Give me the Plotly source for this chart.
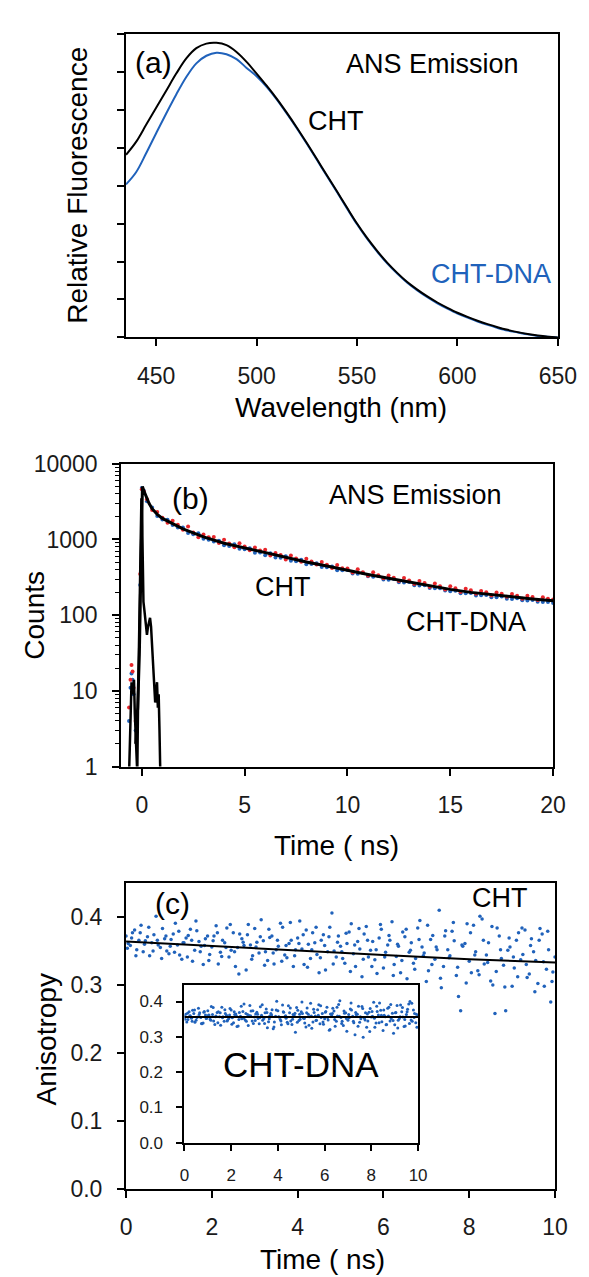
import plotly.graph_objects as go

# =========================
# DATA
# =========================

# (a) steady-state ANS emission spectra
wavelength = [435, 440, 445, 450, 455, 460, 465, 470, 475, 480, 485, 490, 495, 500, 505,
              510, 515, 520, 525, 530, 535, 540, 545, 550, 555, 560, 565, 570, 575, 580,
              585, 590, 595, 600, 605, 610, 615, 620, 625, 630, 635, 640, 645, 650]
fl_cht = [4.81, 5.15, 5.60, 6.05, 6.50, 6.95, 7.35, 7.62, 7.74, 7.76, 7.70, 7.52, 7.26, 6.95, 6.63,
          6.29, 5.92, 5.53, 5.12, 4.70, 4.27, 3.85, 3.42, 3.00, 2.62, 2.28, 1.97, 1.70, 1.46, 1.26,
          1.08, 0.92, 0.78, 0.65, 0.54, 0.44, 0.35, 0.27, 0.20, 0.14, 0.09, 0.05, 0.02, 0.00]
fl_cht_dna = [4.03, 4.35, 4.85, 5.38, 5.90, 6.40, 6.86, 7.22, 7.42, 7.50, 7.46, 7.33, 7.10, 6.88, 6.60,
              6.27, 5.90, 5.51, 5.10, 4.68, 4.25, 3.83, 3.40, 2.98, 2.60, 2.26, 1.95, 1.68, 1.44, 1.24,
              1.06, 0.90, 0.76, 0.63, 0.52, 0.42, 0.33, 0.25, 0.18, 0.13, 0.08, 0.04, 0.02, 0.00]

# (b) fluorescence decays (counts vs time, ns)
t_decay = [-0.62, -0.55, -0.50, -0.45, -0.40, -0.30, -0.08, 0.00, 0.10,
           0.25, 0.50, 0.75, 1.00, 1.25, 1.50, 1.75, 2.00, 2.25, 2.50, 2.75, 3.00,
           3.25, 3.50, 3.75, 4.00, 4.25, 4.50, 4.75, 5.00, 5.25, 5.50, 5.75, 6.00,
           6.25, 6.50, 6.75, 7.00, 7.25, 7.50, 7.75, 8.00, 8.25, 8.50, 8.75, 9.00,
           9.25, 9.50, 9.75, 10.00, 10.25, 10.50, 10.75, 11.00, 11.25, 11.50, 11.75, 12.00,
           12.25, 12.50, 12.75, 13.00, 13.25, 13.50, 13.75, 14.00, 14.25, 14.50, 14.75, 15.00,
           15.25, 15.50, 15.75, 16.00, 16.25, 16.50, 16.75, 17.00, 17.25, 17.50, 17.75, 18.00,
           18.25, 18.50, 18.75, 19.00, 19.25, 19.50, 19.75, 20.00]
counts_cht = [6, 14, 22, 18, 11, 4, 350, 4600, 4300,
              3400, 2450, 2310, 1940, 1660, 1770, 1560, 1340, 1480, 1235, 1070, 1160,
              1070, 1080, 895, 990, 882, 792, 892, 810, 718, 786, 713, 730,
              612, 664, 625, 545, 613, 561, 508, 555, 510, 466, 504, 465,
              419, 459, 417, 414, 366, 403, 368, 331, 369, 338, 308, 333,
              312, 282, 309, 287, 259, 282, 265, 236, 261, 241, 219, 241,
              226, 203, 224, 214, 192, 209, 201, 182, 199, 192, 175, 190,
              181, 165, 180, 174, 158, 173, 165, 161]
counts_cht_dna = [4, 11, 17, 14, 9, 3, 250, 4800, 4400,
                  3200, 2650, 2050, 1840, 1820, 1550, 1440, 1440, 1220, 1175, 1210, 1020,
                  990, 940, 965, 840, 822, 862, 752, 740, 768, 666, 673, 620,
                  658, 580, 575, 601, 523, 517, 538, 471, 474, 486, 432, 431,
                  441, 393, 393, 394, 354, 353, 360, 327, 321, 328, 296, 293,
                  300, 272, 271, 275, 249, 246, 249, 228, 227, 227, 211, 207,
                  210, 195, 194, 196, 182, 183, 185, 172, 173, 176, 165, 164,
                  167, 157, 156, 158, 150, 149, 149, 145]
t_fit = [-0.30, -0.20, -0.12, -0.06, -0.02, 0.03, 0.10, 0.20, 0.35, 0.50, 0.75, 1.0, 1.5,
         2.0, 2.5, 3.0, 4.0, 5.0, 6.0, 7.0, 8.0, 9.0, 10.0, 11.0, 12.0, 13.0, 14.0, 15.0,
         16.0, 17.0, 18.0, 19.0, 20.0]
counts_fit = [2, 6, 30, 300, 2200, 5000, 4400, 3700, 3000, 2550, 2150, 1900, 1630,
              1380, 1225, 1080, 890, 770, 660, 575, 505, 445, 390, 345, 307, 273, 244, 219,
              200, 186, 174, 164, 155]
t_irf = [-0.70, -0.62, -0.58, -0.54, -0.50, -0.46, -0.42, -0.38, -0.34, -0.30, -0.26, -0.22,
         -0.18, -0.14, -0.10, -0.06, -0.02, 0.02, 0.05, 0.08, 0.12, 0.16, 0.20, 0.25, 0.30,
         0.35, 0.40, 0.45, 0.50, 0.55, 0.60, 0.65, 0.70, 0.74, 0.78, 0.82, 0.86, 0.90, 0.95]
counts_irf = [0.8, 0.8, 2, 6, 13, 9, 12, 14, 5, 2, 0.8, 0.8,
              8, 40, 200, 1200, 3500, 1500, 280, 150, 120, 90, 65, 55, 70,
              85, 92, 70, 40, 22, 12, 7, 10, 13, 6, 9, 3, 0.8, 0.8]

# (c) time-resolved anisotropy
t_aniso_a = [0.0, 0.1, 0.2, 0.3, 0.4, 0.5, 0.6, 0.7, 0.8, 0.9, 1.0, 1.1, 1.2, 1.3, 1.4, 1.5, 1.6,
             1.7, 1.8, 1.9, 2.0, 2.1, 2.2, 2.3, 2.4, 2.5, 2.6, 2.7, 2.8, 2.9, 3.0, 3.1, 3.2, 3.3,
             3.4, 3.5, 3.6, 3.7, 3.8, 3.9, 4.0, 4.1, 4.2, 4.3, 4.4, 4.5, 4.6, 4.7, 4.8, 4.9, 5.0,
             5.1, 5.2, 5.3, 5.4, 5.5, 5.6, 5.7, 5.8, 5.9, 6.0, 6.1, 6.2, 6.3, 6.4, 6.5, 6.6, 6.7,
             6.8, 6.9, 7.0, 7.1, 7.2, 7.3, 7.4, 7.5, 7.6, 7.7, 7.8, 7.9, 8.0, 8.1, 8.2, 8.3, 8.4,
             8.5, 8.6, 8.7, 8.8, 8.9, 9.0, 9.1, 9.2, 9.3, 9.4, 9.5, 9.6, 9.7, 9.8, 9.9, 10.0]
t_aniso_b = [0.05, 0.15, 0.25, 0.35, 0.45, 0.55, 0.65, 0.75, 0.85, 0.95, 1.05, 1.15, 1.25, 1.35,
             1.45, 1.55, 1.65, 1.75, 1.85, 1.95, 2.05, 2.15, 2.25, 2.35, 2.45, 2.55, 2.65, 2.75,
             2.85, 2.95, 3.05, 3.15, 3.25, 3.35, 3.45, 3.55, 3.65, 3.75, 3.85, 3.95, 4.05, 4.15,
             4.25, 4.35, 4.45, 4.55, 4.65, 4.75, 4.85, 4.95, 5.05, 5.15, 5.25, 5.35, 5.45, 5.55,
             5.65, 5.75, 5.85, 5.95, 6.05, 6.15, 6.25, 6.35, 6.45, 6.55, 6.65, 6.75, 6.85, 6.95,
             7.05, 7.15, 7.25, 7.35, 7.45, 7.55, 7.65, 7.75, 7.85, 7.95, 8.05, 8.15, 8.25, 8.35,
             8.45, 8.55, 8.65, 8.75, 8.85, 8.95, 9.05, 9.15, 9.25, 9.35, 9.45, 9.55, 9.65, 9.75,
             9.85, 9.95]
t_aniso_c = [0.03, 0.13, 0.23, 0.33, 0.43, 0.53, 0.63, 0.73, 0.83, 0.93, 1.03, 1.13, 1.23, 1.33,
             1.43, 1.53, 1.63, 1.73, 1.83, 1.93, 2.03, 2.13, 2.23, 2.33, 2.43, 2.53, 2.63, 2.73,
             2.83, 2.93, 3.03, 3.13, 3.23, 3.33, 3.43, 3.53, 3.63, 3.73, 3.83, 3.93, 4.03, 4.13,
             4.23, 4.33, 4.43, 4.53, 4.63, 4.73, 4.83, 4.93, 5.03, 5.13, 5.23, 5.33, 5.43, 5.53,
             5.63, 5.73, 5.83, 5.93, 6.03, 6.13, 6.23, 6.33, 6.43, 6.53, 6.63, 6.73, 6.83, 6.93,
             7.03, 7.13, 7.23, 7.33, 7.43, 7.53, 7.63, 7.73, 7.83, 7.93, 8.03, 8.13, 8.23, 8.33,
             8.43, 8.53, 8.63, 8.73, 8.83, 8.93, 9.03, 9.13, 9.23, 9.33, 9.43, 9.53, 9.63, 9.73,
             9.83, 9.93]
r_cht_a = [0.372, 0.358, 0.381, 0.366, 0.349, 0.371, 0.362, 0.401, 0.355, 0.368,
           0.346, 0.375, 0.359, 0.338, 0.369, 0.382, 0.351, 0.364, 0.330, 0.372,
           0.356, 0.387, 0.348, 0.362, 0.341, 0.377, 0.355, 0.368, 0.322, 0.359,
           0.383, 0.347, 0.365, 0.336, 0.372, 0.352, 0.391, 0.344, 0.361, 0.327,
           0.369, 0.353, 0.381, 0.339, 0.362, 0.318, 0.374, 0.349, 0.406, 0.341,
           0.357, 0.332, 0.378, 0.346, 0.364, 0.312, 0.386, 0.351, 0.337, 0.369,
           0.325, 0.359, 0.393, 0.342, 0.318, 0.371, 0.348, 0.332, 0.384, 0.356,
           0.305, 0.367, 0.338, 0.410, 0.327, 0.352, 0.379, 0.314, 0.262, 0.361,
           0.335, 0.388, 0.321, 0.397, 0.344, 0.306, 0.258, 0.372, 0.329, 0.351,
           0.298, 0.366, 0.337, 0.381, 0.316, 0.349, 0.302, 0.375, 0.323, 0.275,
           0.341]
r_cht_b = [0.361, 0.377, 0.352, 0.388, 0.365, 0.343, 0.374, 0.359, 0.383, 0.350,
           0.367, 0.391, 0.344, 0.362, 0.373, 0.335, 0.380, 0.357, 0.368, 0.345,
           0.372, 0.331, 0.366, 0.384, 0.351, 0.327, 0.375, 0.358, 0.389, 0.343,
           0.363, 0.396, 0.349, 0.370, 0.331, 0.357, 0.385, 0.340, 0.366, 0.352,
           0.394, 0.330, 0.360, 0.377, 0.345, 0.366, 0.322, 0.385, 0.350, 0.372,
           0.339, 0.361, 0.390, 0.327, 0.353, 0.375, 0.341, 0.364, 0.317, 0.382,
           0.348, 0.366, 0.330, 0.357, 0.378, 0.309, 0.362, 0.339, 0.395, 0.347,
           0.321, 0.373, 0.352, 0.296, 0.380, 0.343, 0.365, 0.283, 0.357, 0.390,
           0.318, 0.349, 0.401, 0.331, 0.362, 0.300, 0.384, 0.339, 0.262, 0.356,
           0.325, 0.377, 0.345, 0.311, 0.368, 0.336, 0.383, 0.298, 0.352, 0.319]
r_cht_c = [0.354, 0.369, 0.343, 0.377, 0.360, 0.385, 0.350, 0.366, 0.339, 0.372,
           0.357, 0.348, 0.379, 0.362, 0.341, 0.366, 0.394, 0.349, 0.358, 0.336,
           0.365, 0.377, 0.342, 0.355, 0.389, 0.349, 0.316, 0.363, 0.374, 0.338,
           0.356, 0.371, 0.329, 0.382, 0.347, 0.366, 0.335, 0.358, 0.392, 0.343,
           0.361, 0.374, 0.326, 0.352, 0.385, 0.340, 0.358, 0.371, 0.331, 0.363,
           0.349, 0.376, 0.320, 0.359, 0.383, 0.338, 0.366, 0.327, 0.352, 0.389,
           0.341, 0.373, 0.314, 0.360, 0.336, 0.382, 0.351, 0.323, 0.367, 0.343,
           0.388, 0.330, 0.356, 0.310, 0.372, 0.340, 0.392, 0.326, 0.359, 0.303,
           0.377, 0.344, 0.315, 0.366, 0.333, 0.386, 0.320, 0.352, 0.297, 0.369,
           0.341, 0.312, 0.384, 0.330, 0.358, 0.290, 0.366, 0.334, 0.379, 0.305]
r_dna_a = [0.358, 0.342, 0.371, 0.353, 0.366, 0.347, 0.381, 0.355, 0.339, 0.362,
           0.374, 0.350, 0.363, 0.335, 0.369, 0.357, 0.384, 0.344, 0.361, 0.352,
           0.376, 0.340, 0.365, 0.331, 0.358, 0.372, 0.348, 0.363, 0.389, 0.345,
           0.356, 0.370, 0.337, 0.361, 0.352, 0.379, 0.343, 0.366, 0.323, 0.358,
           0.374, 0.349, 0.390, 0.357, 0.341, 0.368, 0.335, 0.362, 0.383, 0.346,
           0.371, 0.353, 0.328, 0.364, 0.395, 0.342, 0.359, 0.377, 0.337, 0.366,
           0.351, 0.384, 0.319, 0.360, 0.373, 0.344, 0.392, 0.355, 0.332, 0.368,
           0.347, 0.379, 0.358, 0.306, 0.364, 0.341, 0.386, 0.353, 0.327, 0.370,
           0.356, 0.398, 0.339, 0.362, 0.375, 0.318, 0.357, 0.381, 0.345, 0.367,
           0.334, 0.389, 0.352, 0.371, 0.329, 0.363, 0.393, 0.348, 0.376, 0.340,
           0.361]
r_dna_b = [0.364, 0.349, 0.360, 0.375, 0.341, 0.356, 0.368, 0.337, 0.372, 0.353,
           0.362, 0.386, 0.345, 0.359, 0.371, 0.333, 0.357, 0.366, 0.348, 0.380,
           0.354, 0.363, 0.329, 0.369, 0.351, 0.393, 0.344, 0.361, 0.373, 0.338,
           0.365, 0.352, 0.385, 0.347, 0.368, 0.326, 0.359, 0.377, 0.342, 0.401,
           0.356, 0.334, 0.370, 0.353, 0.388, 0.345, 0.363, 0.313, 0.375, 0.350,
           0.366, 0.339, 0.382, 0.357, 0.324, 0.369, 0.347, 0.391, 0.355, 0.336,
           0.372, 0.348, 0.365, 0.381, 0.330, 0.359, 0.402, 0.344, 0.367, 0.316,
           0.354, 0.376, 0.340, 0.363, 0.387, 0.351, 0.299, 0.368, 0.345, 0.380,
           0.358, 0.327, 0.372, 0.396, 0.343, 0.361, 0.335, 0.384, 0.352, 0.310,
           0.369, 0.347, 0.390, 0.356, 0.331, 0.378, 0.400, 0.344, 0.366, 0.327]
r_dna_c = [0.350, 0.367, 0.359, 0.344, 0.376, 0.355, 0.363, 0.338, 0.370, 0.352,
           0.361, 0.347, 0.383, 0.357, 0.340, 0.368, 0.354, 0.377, 0.345, 0.362,
           0.336, 0.371, 0.358, 0.349, 0.387, 0.353, 0.366, 0.332, 0.360, 0.374,
           0.346, 0.364, 0.355, 0.391, 0.338, 0.369, 0.351, 0.362, 0.328, 0.376,
           0.357, 0.345, 0.371, 0.360, 0.337, 0.382, 0.350, 0.367, 0.341, 0.364,
           0.399, 0.352, 0.368, 0.333, 0.359, 0.378, 0.346, 0.361, 0.388, 0.342,
           0.370, 0.355, 0.321, 0.366, 0.349, 0.384, 0.358, 0.338, 0.373, 0.352,
           0.363, 0.396, 0.344, 0.369, 0.330, 0.357, 0.380, 0.348, 0.365, 0.315,
           0.372, 0.353, 0.387, 0.340, 0.361, 0.376, 0.334, 0.359, 0.392, 0.346,
           0.368, 0.325, 0.357, 0.383, 0.349, 0.371, 0.338, 0.395, 0.355, 0.364]
t_rfit = [0, 2, 4, 6, 8, 10]
r_fit_cht = [0.364, 0.357, 0.350, 0.344, 0.338, 0.333]
r_fit_dna = [0.356, 0.356, 0.356, 0.356, 0.356, 0.356]

# =========================
# STYLE
# =========================
W, H = 589, 1277
FONT = "Arial, Liberation Sans, sans-serif"
BLUE = "#2062bb"
RED = "#e8262b"
INK = "#000000"


def fx(px):
    return px / W


def fy(py):
    return 1 - py / H


def axis(x0, x1, **kw):
    base = dict(domain=[x0, x1], showline=True, linecolor="black", linewidth=2, mirror=True,
                ticks="outside", ticklen=7, tickwidth=2, tickcolor="black",
                showgrid=False, zeroline=False, ticklabelstandoff=10,
                tickfont=dict(family=FONT, size=23, color="#1a1a1a"))
    base.update(kw)
    return base


def label(text, x, y, size=27, color=INK, angle=0):
    return dict(text=text, x=fx(x), y=fy(y), xref="paper", yref="paper",
                xanchor="center", yanchor="middle", showarrow=False, textangle=angle,
                font=dict(family=FONT, size=size, color=color))


fig = go.Figure()

# (a)
fig.add_trace(go.Scatter(x=wavelength, y=fl_cht_dna, mode="lines",
                         line=dict(color=BLUE, width=2, shape="spline"), xaxis="x", yaxis="y"))
fig.add_trace(go.Scatter(x=wavelength, y=fl_cht, mode="lines",
                         line=dict(color="black", width=2, shape="spline"), xaxis="x", yaxis="y"))

# (b)
fig.add_trace(go.Scatter(x=t_decay, y=counts_cht_dna, mode="markers",
                         marker=dict(color=BLUE, size=4), xaxis="x2", yaxis="y2"))
fig.add_trace(go.Scatter(x=t_decay, y=counts_cht, mode="markers",
                         marker=dict(color=RED, size=4), xaxis="x2", yaxis="y2"))
fig.add_trace(go.Scatter(x=t_irf, y=counts_irf, mode="lines", line=dict(color="black", width=2.5),
                         xaxis="x2", yaxis="y2"))
fig.add_trace(go.Scatter(x=t_fit, y=counts_fit, mode="lines", line=dict(color="black", width=3),
                         xaxis="x2", yaxis="y2"))

# (c) main: CHT
for t, r in [(t_aniso_a, r_cht_a), (t_aniso_b, r_cht_b), (t_aniso_c, r_cht_c)]:
    fig.add_trace(go.Scatter(x=t, y=r, mode="markers", marker=dict(color=BLUE, size=3.5),
                             xaxis="x3", yaxis="y3"))
fig.add_trace(go.Scatter(x=t_rfit, y=r_fit_cht, mode="lines", line=dict(color="black", width=2),
                         xaxis="x3", yaxis="y3"))

# (c) inset: CHT-DNA
for t, r in [(t_aniso_a, r_dna_a), (t_aniso_b, r_dna_b), (t_aniso_c, r_dna_c)]:
    fig.add_trace(go.Scatter(x=t, y=r, mode="markers", marker=dict(color=BLUE, size=3),
                             xaxis="x4", yaxis="y4"))
fig.add_trace(go.Scatter(x=t_rfit, y=r_fit_dna, mode="lines", line=dict(color="black", width=2),
                         xaxis="x4", yaxis="y4"))

small = dict(family=FONT, size=17, color="#1a1a1a")

fig.update_layout(
    width=W, height=H, showlegend=False,
    margin=dict(l=0, r=0, t=0, b=0),
    paper_bgcolor="white", plot_bgcolor="white",
    xaxis=axis(fx(117), fx(568), range=[435, 650], tickvals=[450, 500, 550, 600, 650], anchor="y"),
    yaxis=axis(fy(323), fy(13), range=[0, 8], dtick=1, showticklabels=False, anchor="x"),
    xaxis2=axis(fx(112), fx(563), range=[-1, 20], tickvals=[0, 5, 10, 15, 20], anchor="y2"),
    yaxis2=axis(fy(761), fy(452), type="log", range=[0, 4],
                tickvals=[1, 10, 100, 1000, 10000], ticktext=["1", "10", "100", "1000", "10000"],
                minor=dict(ticks="outside", ticklen=4, tickwidth=1, tickcolor="black", dtick="D1"),
                anchor="x2"),
    xaxis3=axis(fx(117), fx(565), range=[0, 10], dtick=2, anchor="y3"),
    yaxis3=axis(fy(1192), fy(880), range=[0, 0.45], tickvals=[0, 0.1, 0.2, 0.3, 0.4],
                tickformat=".1f", anchor="x3"),
    xaxis4=axis(fx(178), fx(422), range=[0, 10], dtick=2, ticklen=6, tickfont=small, anchor="y4"),
    yaxis4=axis(fy(1145), fy(984), range=[0, 0.447], tickvals=[0, 0.1, 0.2, 0.3, 0.4],
                tickformat=".1f", ticklen=6, tickfont=small, anchor="x4"),
    annotations=[
        # panel (a)
        label("(a)", 146, 42, size=30),
        label("ANS Emission", 437, 44),
        label("CHT", 336, 102),
        label("CHT-DNA", 498, 258, color=BLUE),
        label("Wavelength (nm)", 342, 395, size=28),
        label("Relative Fluorescence", 66, 168, size=28, angle=-90),
        # panel (b)
        label("(b)", 184, 487, size=30),
        label("ANS Emission", 419, 484),
        label("CHT", 281, 578),
        label("CHT-DNA", 472, 614),
        label("Time ( ns)", 337, 842, size=28),
        label("Counts", 22, 607, size=28, angle=-90),
        # panel (c)
        label("(c)", 166, 901, size=30),
        label("CHT", 508, 895),
        label("CHT-DNA", 300, 1065, size=35),
        label("Time ( ns)", 322, 1264, size=28),
        label("Anisotropy", 34, 1040, size=28, angle=-90),
    ],
)

fig.write_html("out.html")
